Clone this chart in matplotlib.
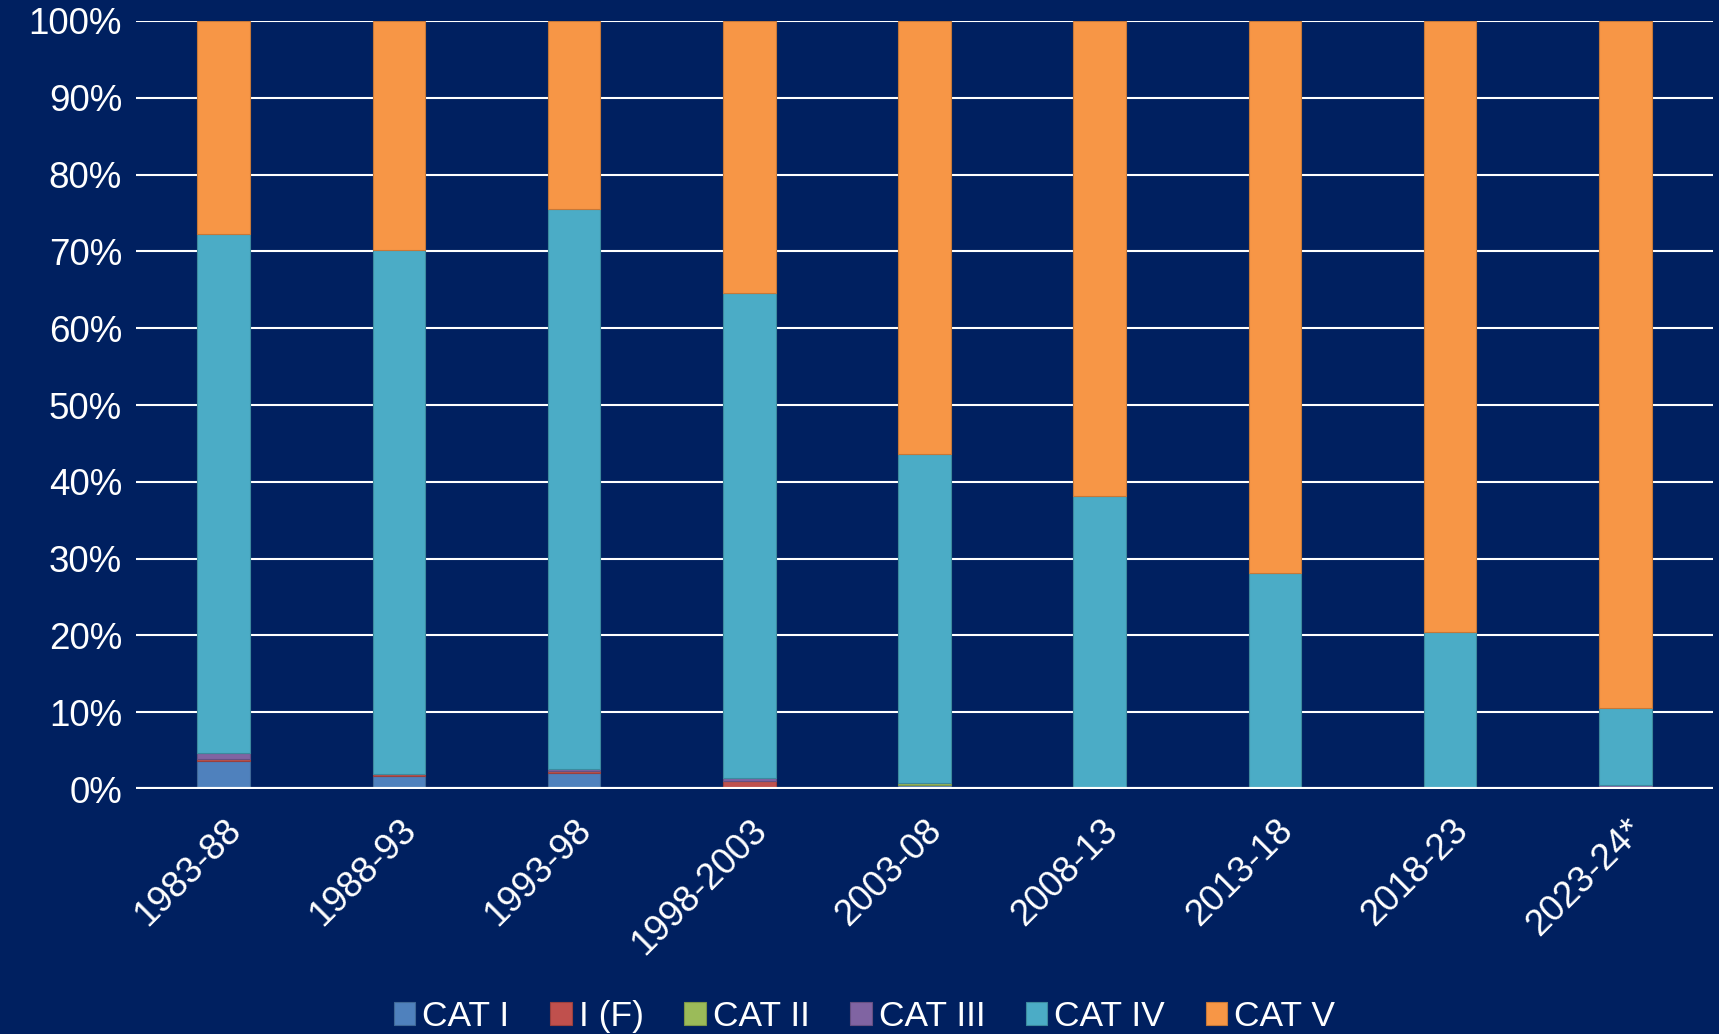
import numpy as np
import matplotlib
matplotlib.use('Agg')
import matplotlib.pyplot as plt
from matplotlib.ticker import PercentFormatter

plt.rcParams['font.family'] = ['Liberation Sans', 'DejaVu Sans']

periods = ['1983-88', '1988-93', '1993-98', '1998-2003', '2003-08',
           '2008-13', '2013-18', '2018-23', '2023-24*']
cat_1 = [3.6, 1.7, 2.1, 0.3, 0.5, 0.0, 0.0, 0.0, 0.0]
cat_1f = [0.3, 0.3, 0.3, 0.8, 0.0, 0.0, 0.25, 0.0, 0.0]
cat_2 = [0.0, 0.0, 0.0, 0.0, 0.3, 0.0, 0.0, 0.0, 0.0]
cat_3 = [0.8, 0.0, 0.2, 0.3, 0.0, 0.2, 0.0, 0.0, 0.5]
cat_4_top = [72.3, 70.2, 75.5, 64.6, 43.6, 38.2, 28.1, 20.5, 10.5]

series_names = ['CAT I', 'I (F)', 'CAT II', 'CAT III', 'CAT IV', 'CAT V']
colors = ['#4F81BD', '#C0504D', '#9BBB59', '#8064A2', '#4BACC6', '#F79646']
edges = ['#3f6897', '#9a403e', '#7c9647', '#665082', '#3c8a9e', '#c67838']

below = np.array(cat_1) + np.array(cat_1f) + np.array(cat_2) + np.array(cat_3)
cat_4 = np.array(cat_4_top) - below
cat_5 = 100 - np.array(cat_4_top)
data = [cat_1, cat_1f, cat_2, cat_3, cat_4, cat_5]

bg = '#002060'
fig = plt.figure(figsize=(17.19, 10.34), dpi=100, facecolor=bg)
ax = fig.add_axes([0.0791, 0.2369, 0.9174, 0.7428], facecolor=bg)

x = np.arange(len(periods))
bottom = np.zeros(len(periods))
for name, vals, c, ec in zip(series_names, data, colors, edges):
    ax.bar(x, vals, 0.30, bottom=bottom, color=c, edgecolor=ec,
           linewidth=0.8, label=name, zorder=3)
    bottom += np.array(vals)

ax.set_xlim(-0.5, len(periods) - 0.5)
ax.set_ylim(0, 100)
ax.set_yticks(np.arange(0, 101, 10))
ax.yaxis.set_major_formatter(PercentFormatter(decimals=0))
ax.grid(axis='y', color='white', linewidth=1.5, zorder=0)
ax.axhline(0, color='white', linewidth=3, zorder=4)
for s in ax.spines.values():
    s.set_visible(False)
ax.tick_params(axis='both', length=0, colors='white', labelsize=26.5)
ax.tick_params(axis='y', pad=10)
ax.set_xticks(x)
ax.set_xticklabels(periods, rotation=45, ha='right', rotation_mode='anchor')
ax.tick_params(axis='x', pad=17)

leg = fig.legend(loc='lower center', bbox_to_anchor=(0.503, -0.03), ncol=6,
                 frameon=False, fontsize=25.5, handlelength=0.6,
                 handleheight=0.6, handletextpad=0.2, columnspacing=1.15)
for t in leg.get_texts():
    t.set_color('white')

fig.savefig('out.png', dpi=100, facecolor=bg)
